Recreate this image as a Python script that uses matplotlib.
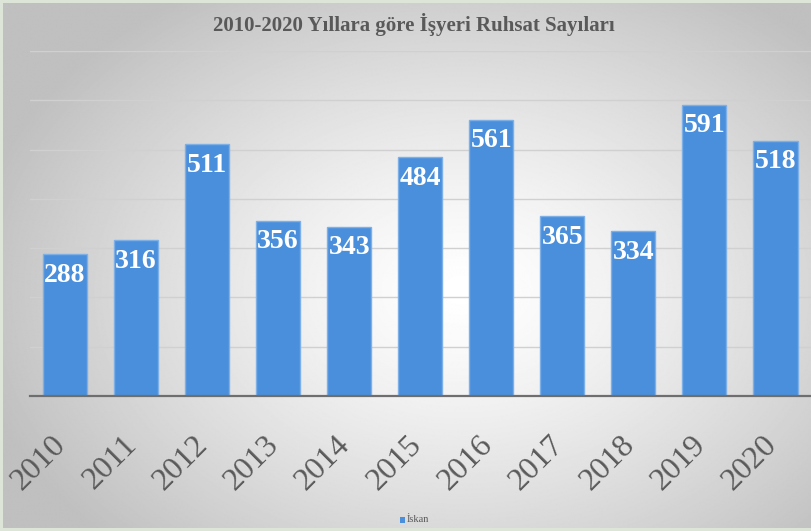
import numpy as np
import matplotlib
matplotlib.use('Agg')
import matplotlib.pyplot as plt
import matplotlib.transforms as mtransforms
from matplotlib.patches import Rectangle

years = ['2010', '2011', '2012', '2013', '2014', '2015', '2016', '2017', '2018', '2019', '2020']
permits = [288, 316, 511, 356, 343, 484, 561, 365, 334, 591, 518]
series_name = 'İskan'
title = '2010-2020 Yıllara göre İşyeri Ruhsat Sayıları'

W, H = 811, 531
fig = plt.figure(figsize=(W / 100, H / 100), dpi=100)
fig.patch.set_facecolor('#dde5d8')

# radial gray-white background of the chart area
bg = fig.add_axes([3 / W, 3 / H, 1 - 3 / W, 1 - 6 / H])
yy, xx = np.mgrid[0:H, 0:W]
r = np.sqrt(((xx - 460) / 500.0) ** 2 + ((yy - 290) / 360.0) ** 2)
shade = np.clip(1.0 - 0.25 * r ** 1.3, 0.75, 1.0)
bg.imshow(shade, cmap='gray', vmin=0, vmax=1, aspect='auto', interpolation='bilinear')
bg.axis('off')

ax = fig.add_axes([29.5 / W, (H - 396) / H, (811 - 29.5) / W, (396 - 51) / H])
ax.patch.set_alpha(0)
x = np.arange(len(years))
bars = ax.bar(x, permits, width=0.62, color='#4a8fdb', edgecolor='#7eb0e8', linewidth=1, zorder=3)

ax.set_ylim(0, 700)
ax.set_xlim(-0.5, len(years) - 0.5)
ax.set_yticks(range(0, 701, 100))
ax.yaxis.grid(True, color='#d0d0d0', linewidth=1, zorder=0)
ax.tick_params(axis='y', left=False, labelleft=False)
ax.tick_params(axis='x', bottom=False, pad=21)
for s in ['top', 'right', 'left']:
    ax.spines[s].set_visible(False)
ax.spines['bottom'].set_color('#6e6e6e')
ax.spines['bottom'].set_linewidth(1.6)
ax.spines['bottom'].set_zorder(4)

ax.set_xticks(x)
ax.set_xticklabels(years, rotation=45, ha='right', rotation_mode='default',
                   fontsize=23, family='Liberation Serif', color='#5a5a5a')
shift = mtransforms.ScaledTranslation(7 / 100, 0, fig.dpi_scale_trans)
for lbl in ax.get_xticklabels():
    lbl.set_transform(lbl.get_transform() + shift)

for xi, v in zip(x, permits):
    ax.annotate(str(v), (xi, v), xytext=(0, -21), textcoords='offset pixels',
                ha='center', va='center', fontsize=20, fontweight='bold',
                family='Liberation Serif', color='white', zorder=5)

fig.text(414 / W, 1 - 25 / H, title, ha='center', va='center', fontsize=15,
         fontweight='bold', family='Liberation Serif', color='#595959')

# legend
fig.patches.append(Rectangle((400 / W, 1 - 523 / H), 5 / W, 6 / H, transform=fig.transFigure,
                             facecolor='#4a8fdb', edgecolor='none'))
fig.text(406.5 / W, 1 - 519.5 / H, series_name, ha='left', va='center', fontsize=7.5,
         family='Liberation Serif', color='#595959')

fig.savefig('out.png', dpi=100)
